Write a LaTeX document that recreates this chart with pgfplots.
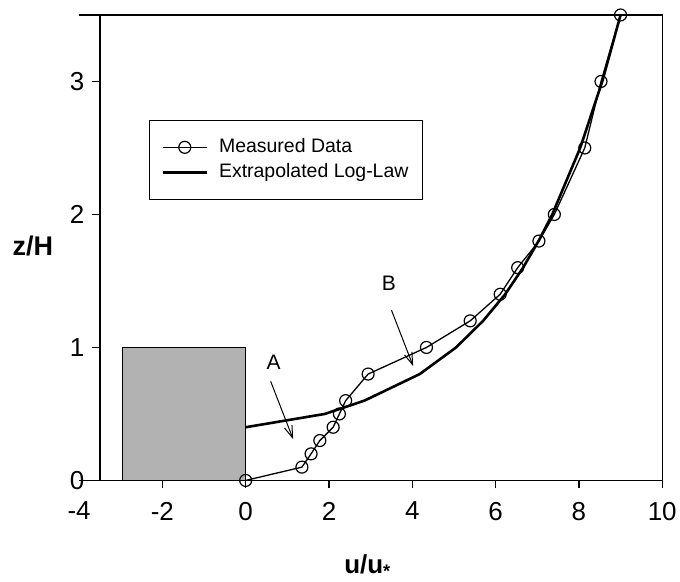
\documentclass[border=0pt]{standalone}
\usepackage{fontspec}
\setmainfont{Liberation Sans}
\usepackage{pgfplots}
\pgfplotsset{compat=1.18}
\usetikzlibrary{arrows.meta}

\pgfplotsset{
    measleg/.style={legend image code/.code={\draw[mark repeat=2,mark phase=2,##1] plot coordinates {(0pt,0pt) (22pt,0pt) (44pt,0pt)};}},
    lawleg/.style={legend image code/.code={\draw[##1] (0pt,0pt) -- (44pt,0pt);}},
}

\begin{document}
\begin{tikzpicture}
\begin{axis}[
    scale only axis,
    width=563pt, height=466pt,
    xmin=-3.5, xmax=10, ymin=0, ymax=3.5,
    xtick={-2,0,...,10}, ytick={0,1,2,3},
    xtick pos=left, ytick pos=left,
    tick align=outside, major tick length=8pt,
    axis line style={line width=1.3pt},
    every tick/.style={black, line width=1.3pt},
    /pgf/number format/assume math mode=true,
    ticklabel style={font=\fontsize{26}{31}\selectfont},
    xticklabel style={yshift=-10pt},
    yticklabel style={xshift=-4pt},
    xlabel={u/u\textsubscript{*}},
    xlabel style={at={(rel axis cs:0.476,-0.185)}, anchor=center, font=\bfseries\fontsize{26}{31}\selectfont},
    ylabel={z/H},
    ylabel style={at={(rel axis cs:-0.119,0.504)}, rotate=-90, anchor=center, font=\bfseries\fontsize{27}{32}\selectfont},
    clip=false,
    legend style={at={(0.0871,0.775)}, anchor=north west, draw=black, line width=1.3pt,
        font=\fontsize{19.5}{23}\selectfont, inner xsep=12pt, inner ysep=16pt, row sep=3pt,
        nodes={inner sep=2pt, text height=14pt, text depth=4pt},
        /tikz/every odd column/.append style={column sep=9pt}},
    legend cell align=left,
]
% building block
\addplot[draw=black, line width=1.3pt, fill=black!30, forget plot]
    coordinates {(-2.95,0) (-2.95,1) (0,1) (0,0)} -- cycle;

% measured profile
\addplot[black, line width=1.3pt, mark=o, mark size=6pt,
    mark options={fill=white, line width=1.2pt}, measleg]
coordinates {
    (0,0) (1.35,0.1) (1.57,0.2) (1.78,0.3) (2.1,0.4) (2.25,0.5) (2.4,0.6)
    (2.94,0.8) (4.34,1.0) (5.39,1.2) (6.11,1.4) (6.53,1.6) (7.04,1.8)
    (7.41,2.0) (8.14,2.5) (8.53,3.0) (9.0,3.5)
};
\addlegendentry{Measured Data}

% log-law
\addplot[black, line width=2.6pt, lawleg]
coordinates {
    (0,0.4) (1.9,0.5) (2.85,0.6) (4.18,0.8) (5.05,1.0) (5.70,1.2) (6.23,1.4)
    (6.66,1.6) (7.03,1.8) (7.36,2.0) (8.03,2.5) (8.56,3.0) (9.0,3.5)
};
\addlegendentry{Extrapolated Log-Law}

% annotations
\node[font=\fontsize{21}{25}\selectfont] at (axis cs:0.67,0.885) {A};
\draw[line width=1pt, -{Straight Barb[length=12pt,width=8pt]}] (axis cs:0.6,0.745) -- (axis cs:1.14,0.31);
\node[font=\fontsize{21}{25}\selectfont] at (axis cs:3.44,1.48) {B};
\draw[line width=1pt, -{Straight Barb[length=12pt,width=8pt]}] (axis cs:3.5,1.28) -- (axis cs:4.02,0.86);

% frame lines run on to x=-4
\draw[line width=1.3pt] (axis cs:-4,0) -- (axis cs:-3.5,0);
\draw[line width=1.3pt] (axis cs:-4,3.5) -- (axis cs:-3.5,3.5);
\node[anchor=north, font=\fontsize{26}{31}\selectfont] at ([yshift=-18pt]axis cs:-4,0) {-4};

\path ([shift={(-100pt,-100pt)}]rel axis cs:0,0) rectangle ([shift={(17pt,15pt)}]rel axis cs:1,1);
\end{axis}
\end{tikzpicture}
\end{document}
